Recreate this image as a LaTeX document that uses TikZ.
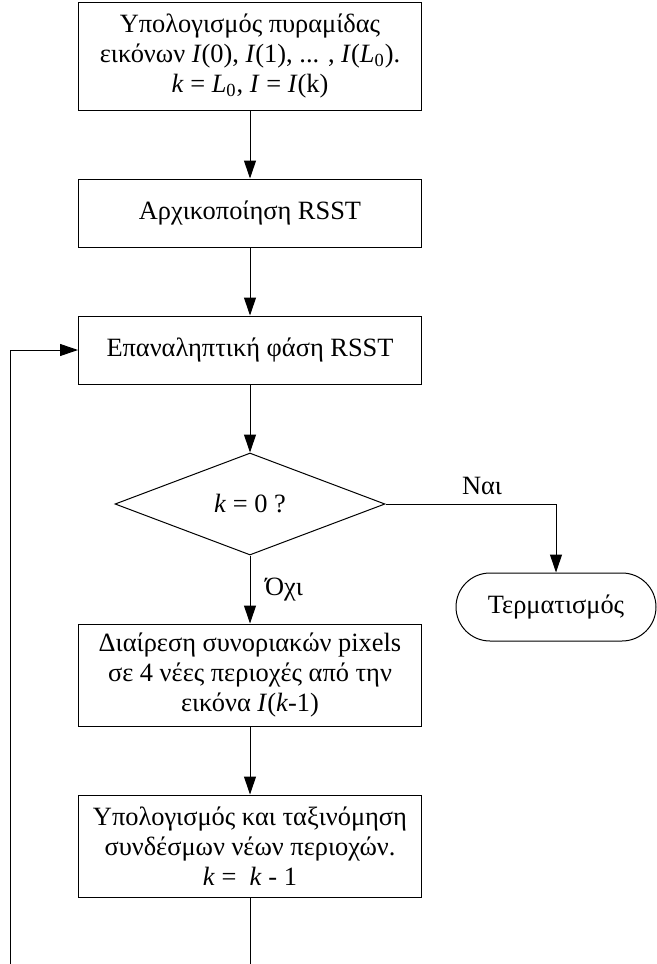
\documentclass[tikz,border=0pt]{standalone}
\usepackage{fontspec}
\setmainfont{Liberation Serif}
\usetikzlibrary{arrows.meta,shapes.geometric}

\tikzset{
  stepbox/.style = {draw, line width=0.5pt, minimum width=171.5pt, align=center,
                    font=\fontsize{13.2}{15}\selectfont, inner sep=2pt},
  decision/.style = {draw, diamond, line width=0.5pt, minimum width=135pt, minimum height=51pt,
                     inner sep=0pt, font=\fontsize{13.2}{15}\selectfont},
  terminal/.style = {draw, rectangle, rounded corners=17pt, line width=0.5pt, minimum width=100pt,
                     minimum height=34pt, font=\fontsize{13.2}{15}\selectfont},
  flow/.style = {line width=0.5pt, -{Triangle[length=9pt,width=6pt]}},
  plain/.style = {line width=0.5pt},
  lbl/.style = {font=\fontsize{13.2}{15}\selectfont}
}

\begin{document}
\begin{tikzpicture}[x=0.5pt, y=-0.5pt]
                \useasboundingbox (0,0) rectangle (657,964);
                \node[stepbox, minimum height=54pt] (pyramid) at (250,56)
                  {Υπολογισμός πυραμίδας\\
                   εικόνων \textit{I}(0), \textit{I}(1), ... , \textit{I}(\textit{L}\textsubscript{0}).\\
                   \textit{k} = \textit{L}\textsubscript{0}, \textit{I} = \textit{I}(k)};
                \node[stepbox, minimum height=34pt] (init) at (250,213) {Αρχικοποίηση RSST};
                \node[stepbox, minimum height=34pt] (iter) at (250,350) {Επαναληπτική φάση RSST};
                \node[decision] (test) at (250,504) {\textit{k} = 0 ?};
                \node[terminal] (stop) at (556,607) {Τερματισμός};
                \node[stepbox, minimum height=51pt] (split) at (250,675)
                  {Διαίρεση συνοριακών pixels\\ σε 4 νέες περιοχές από την\\ εικόνα \textit{I}(\textit{k}-1)};
                \node[stepbox, minimum height=51pt] (sort) at (250,846)
                  {Υπολογισμός και ταξινόμηση\\ συνδέσμων νέων περιοχών.\\ \textit{k} =~ \textit{k} - 1};
                \node[lbl] (yes) at (482,486) {Ναι};
                \node[lbl] (no) at (284,590) {Όχι};
                \coordinate (loopbot) at (250,964);
                \coordinate (loopleft) at (10,964);
                \draw[flow] (pyramid) -- (init);
                \draw[flow] (init) -- (iter);
                \draw[flow] (iter) -- (test);
                \draw[flow] (test.east) -| (stop.north);
                \draw[flow] (test.south) -- (split);
                \draw[flow] (split) -- (sort);
                \draw[plain] (sort.south) -- (loopbot);
                \draw[flow] (loopleft) |- (iter.west);
            \end{tikzpicture}
\end{document}
